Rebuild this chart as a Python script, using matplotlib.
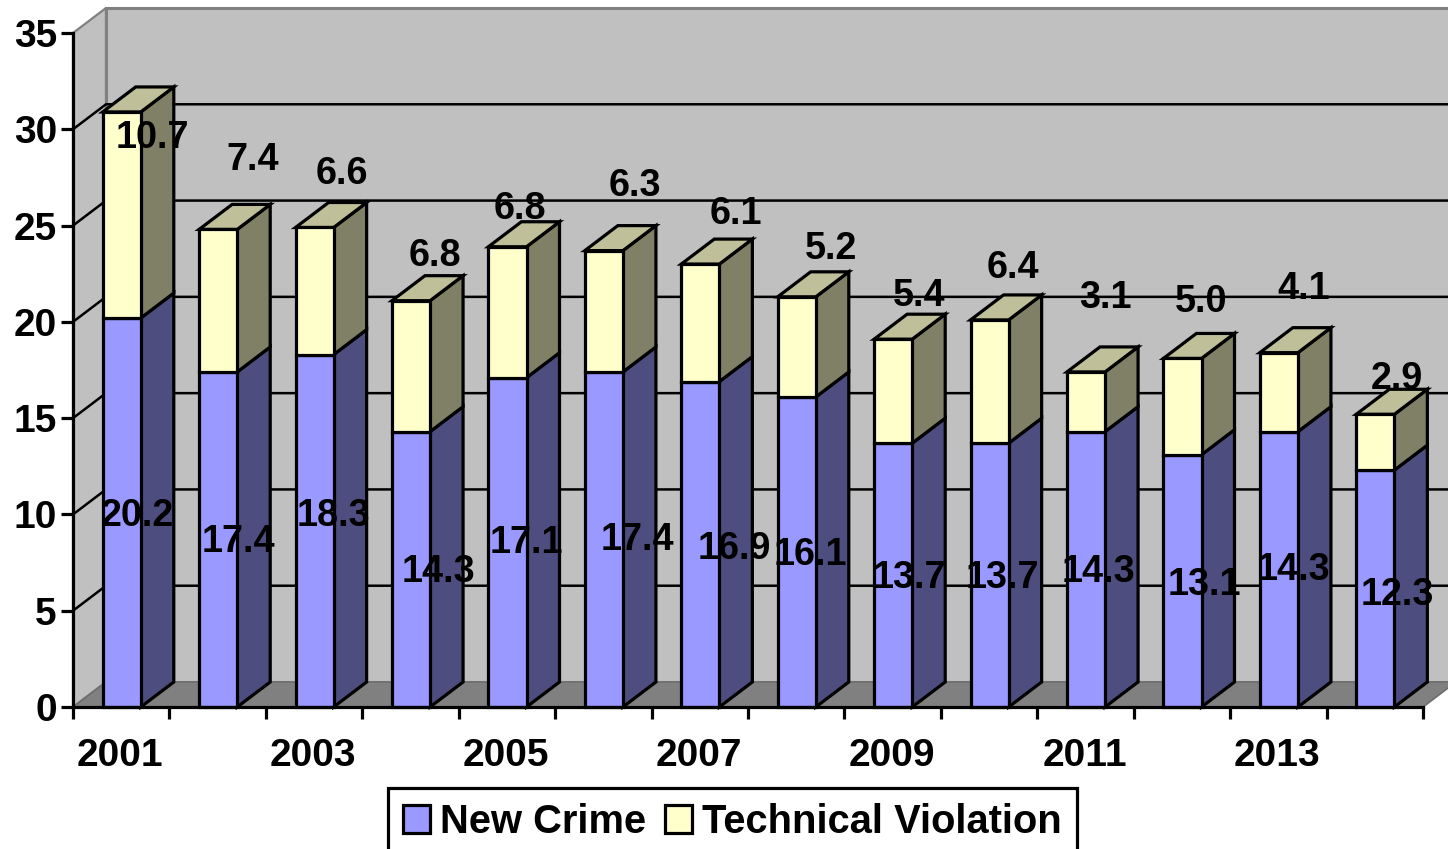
import numpy as np
import matplotlib
matplotlib.use("Agg")
import matplotlib.pyplot as plt
from matplotlib.patches import Polygon

plt.rcParams['font.family'] = ['Liberation Sans', 'DejaVu Sans']
plt.rcParams['font.weight'] = 'bold'

years = [2001, 2002, 2003, 2004, 2005, 2006, 2007, 2008, 2009, 2010, 2011, 2012, 2013, 2014]
new_crime = [20.2, 17.4, 18.3, 14.3, 17.1, 17.4, 16.9, 16.1, 13.7, 13.7, 14.3, 13.1, 14.3, 12.3]
technical = [10.7, 7.4, 6.6, 6.8, 6.8, 6.3, 6.1, 5.2, 5.4, 6.4, 3.1, 5.0, 4.1, 2.9]
y_ticks = [0, 5, 10, 15, 20, 25, 30, 35]

# hand placed data labels in the original, pixel nudges from the anchor
new_dx = [16, 20, 19, 27, 19, 34, 34, 14, 16, 13, 12, 22, 15, 22]
new_dy = [0, 0, 18, 0, 2, 2, -2, 0, 0, 0, 0, -1, 2, -3]
tech_dx = [31, 35, 27, 24, 12, 31, 36, 34, 26, 23, 19, 19, 25, 22]
tech_dy = [-23, 72, 56, 48, 41, 68, 53, 51, 46, 55, 77, 59, 67, 38]
label_shift = -3

# fake 3d depth, in axis units
depth_x = 33 / 96.43
depth_y = 25 / 19.257
bar_left = 0.308
bar_w = 0.395
font = 27.2
tick_font = 28
legend_font = 28.7
edge = 2.3

fig = plt.figure(figsize=(14.48, 8.49), dpi=100)
ax = fig.add_axes([73 / 1448, (849 - 707) / 849, 1350 / 1448, 674 / 849])
ax.set_xlim(0, 14)
ax.set_ylim(0, 35)


def face(points, color, z, lw=edge, ec='black'):
    ax.add_patch(Polygon(points, closed=True, fc=color, ec=ec, lw=lw, zorder=z,
                         clip_on=False, joinstyle='miter'))


# walls and floor
right = 14 + depth_x
face([(0, 0), (0, 35), (depth_x, 35 + depth_y), (depth_x, depth_y)], '#C0C0C0', 1, 1.6, '#808080')
face([(depth_x, depth_y), (depth_x, 35 + depth_y), (right, 35 + depth_y), (right, depth_y)],
     '#C0C0C0', 1, 2.2, '#808080')
face([(0, 0), (depth_x, depth_y), (right, depth_y), (14, 0)], '#808080', 1.5, 1.2, '#6E6E6E')

# grid on the back wall and the side wall
for v in y_ticks[1:-1]:
    ax.plot([0, depth_x, right], [v, v + depth_y, v + depth_y], color='black', lw=1.8,
            zorder=2, clip_on=False)

# the bars
x = np.arange(len(years)) + bar_left
bottoms = np.array(new_crime)
tops = bottoms + np.array(technical)
b1 = ax.bar(x, new_crime, bar_w, align='edge', color='#9999FF', edgecolor='black', lw=edge,
            zorder=4, label='New Crime', clip_on=False)
b2 = ax.bar(x, technical, bar_w, bottom=new_crime, align='edge', color='#FFFFCC', edgecolor='black',
            lw=edge, zorder=4, label='Technical Violation', clip_on=False)

for i in range(len(years)):
    r = x[i] + bar_w
    l = x[i]
    face([(r, 0), (r + depth_x, depth_y), (r + depth_x, bottoms[i] + depth_y), (r, bottoms[i])], '#4D4D80', 3)
    face([(r, bottoms[i]), (r + depth_x, bottoms[i] + depth_y), (r + depth_x, tops[i] + depth_y),
          (r, tops[i])], '#808066', 3)
    face([(l, tops[i]), (l + depth_x, tops[i] + depth_y), (r + depth_x, tops[i] + depth_y), (r, tops[i])],
         '#BFBF99', 3)

# data labels
for i in range(len(years)):
    c = x[i] + bar_w / 2
    ax.annotate(f'{new_crime[i]:.1f}', (c, new_crime[i] / 2), xytext=(new_dx[i], new_dy[i] + label_shift),
                textcoords='offset pixels', ha='center', va='center', fontsize=font,
                color='black', zorder=6, annotation_clip=False)
    ax.annotate(f'{technical[i]:.1f}', (c, tops[i]), xytext=(tech_dx[i], tech_dy[i] + label_shift),
                textcoords='offset pixels', ha='center', va='center', fontsize=font,
                color='black', zorder=6, annotation_clip=False)

# axes
for s in ['top', 'right']:
    ax.spines[s].set_visible(False)
for s in ['left', 'bottom']:
    ax.spines[s].set_linewidth(edge)
    ax.spines[s].set_zorder(5)
ax.set_yticks(y_ticks)
ax.set_xticks(np.arange(0, 15))
ax.set_xticklabels([])
ax.set_xticks(np.arange(0, 14, 2) + 0.49, [str(y) for y in years[::2]], minor=True)
ax.tick_params(axis='both', which='major', length=8.6, width=edge, labelsize=tick_font, pad=3)
ax.tick_params(axis='x', which='minor', length=0, labelsize=tick_font, pad=22)

leg = ax.legend(handles=[b1, b2], loc='center', bbox_to_anchor=(732.5 / 1448, 1 - 822 / 849),
                bbox_transform=fig.transFigure, ncols=2, fontsize=legend_font, fancybox=False,
                edgecolor='black', framealpha=1, handlelength=0.68, handleheight=0.68,
                handletextpad=0.25, columnspacing=0.48, borderpad=0.375, borderaxespad=0)
leg.get_frame().set_linewidth(edge)
leg.set_zorder(7)

fig.savefig('out.png', dpi=100)
